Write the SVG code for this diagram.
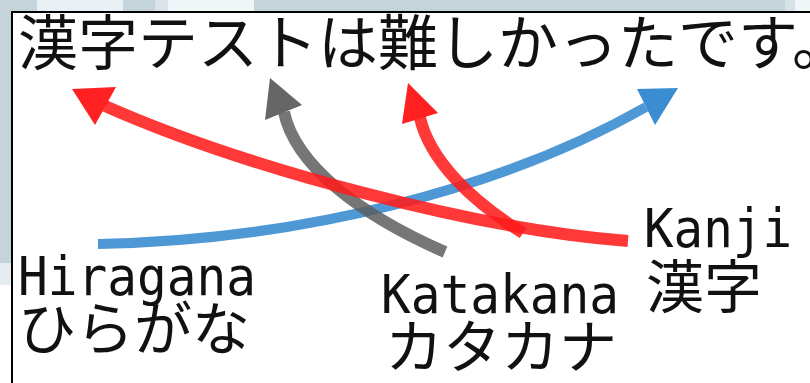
<svg xmlns="http://www.w3.org/2000/svg" width="810" height="383" viewBox="0 0 810 383">
<style>
.jp{font-family:"Noto Sans CJK JP","Noto Sans CJK SC",sans-serif;fill:#111}
.mono{font-family:"DejaVu Sans Mono","Liberation Mono",monospace;fill:#111;font-size:54px}
.stem{fill:none;stroke-linecap:butt}
.red{stroke:#ff1a1a;stroke-opacity:0.87}
.redh{fill:#ff1a1a;fill-opacity:0.97}
.blue{stroke:#3a8dd0;stroke-opacity:0.9}
.blueh{fill:#3a8dd0}
.gray{stroke:#5e5e5e;stroke-opacity:0.85}
.grayh{fill:#666666}
</style>
<g id="background">
<rect x="0" y="0" width="810" height="383" fill="#c5d4db"/>
<rect x="37" y="0" width="86" height="12" fill="#e9f0f3"/>
<rect x="155" y="0" width="13" height="12" fill="#d9e3e8"/>
<rect x="168" y="0" width="86" height="12" fill="#f0f5f7"/>
<rect x="785" y="0" width="10" height="12" fill="#d7e2e7"/>
<rect x="795" y="0" width="15" height="12" fill="#f0f5f7"/>
<rect x="0" y="263" width="12" height="22" fill="#e4ecef"/>
<rect x="0" y="285" width="12" height="98" fill="#ffffff"/>
<rect x="12" y="11" width="798" height="372" fill="#ffffff"/>
<line x1="12" y1="11" x2="12" y2="383" stroke="#000" stroke-width="2"/>
<line x1="11" y1="12" x2="810" y2="12" stroke="#000" stroke-width="2"/>
</g>
<g id="title">
<text class="jp" x="18" y="65" font-size="60">漢字テストは難しかったです。</text>
</g>
<g id="connectors">
<path class="stem blue" stroke-width="10" d="M98,244 C300,240 500,190 646,107"/>
<polygon class="blueh" points="678,88 637,89 655,125"/>
<path class="stem gray" stroke-width="12" d="M445,252 C360,215 295,165 284,112"/>
<polygon class="grayh" points="270,78 265,120 302,105"/>
<path class="stem red" stroke-width="12" d="M628,241 C480,230 250,170 105,106"/>
<polygon class="redh" points="72,89 116,87 95,125"/>
<path class="stem red" stroke-width="12" d="M523,233 C470,200 430,160 420,118"/>
<polygon class="redh" points="408,83 402,124 438,113"/>
</g>
<g id="hiragana">
<text class="mono" x="18" y="295" textLength="238" lengthAdjust="spacingAndGlyphs">Hiragana</text>
<text class="jp" x="18" y="350" font-size="58">ひらがな</text>
</g>
<g id="katakana">
<text class="mono" x="381" y="313" textLength="238" lengthAdjust="spacingAndGlyphs">Katakana</text>
<text class="jp" x="385" y="368" font-size="58">カタカナ</text>
</g>
<g id="kanji">
<text class="mono" x="644" y="247" textLength="148" lengthAdjust="spacingAndGlyphs">Kanji</text>
<text class="jp" x="646" y="308" font-size="58">漢字</text>
</g>
</svg>
